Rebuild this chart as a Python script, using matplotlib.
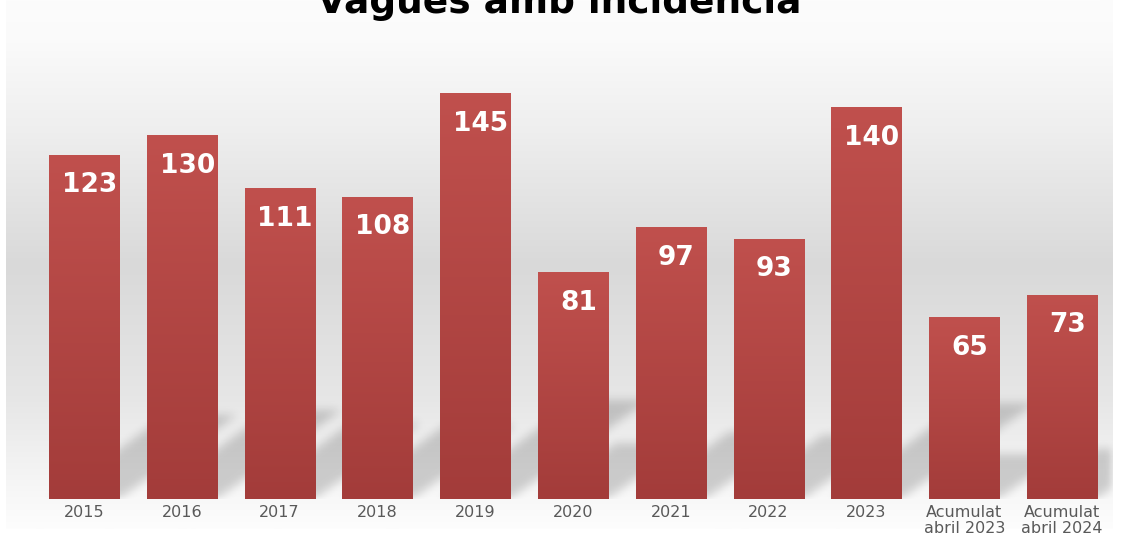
import numpy as np
import matplotlib.pyplot as plt
from matplotlib.colors import LinearSegmentedColormap

# chart data
labels = ['2015', '2016', '2017', '2018', '2019', '2020', '2021', '2022', '2023',
          'Acumulat\nabril 2023', 'Acumulat\nabril 2024']
values = [123, 130, 111, 108, 145, 81, 97, 93, 140, 65, 73]
title = 'Vagues amb incidència'

W, H = 1129, 537
fig = plt.figure(figsize=(W / 100, H / 100), dpi=100)

# grey gradient panel behind the plot
bg = fig.add_axes([6 / W, 8 / H, (1113 - 6) / W, 1 - 8 / H], zorder=0)
bg.set_axis_off()
grad = LinearSegmentedColormap.from_list('bg', [(0.0, '#fcfcfc'), (0.08, '#fafafa'),
                                                (0.25, '#eeeeee'), (0.5, '#d9d9d9'),
                                                (0.75, '#e6e6e6'), (0.93, '#f7f7f7'),
                                                (1.0, '#fdfdfd')])
bg.imshow(np.linspace(0, 1, 256).reshape(-1, 1), aspect='auto', cmap=grad,
          extent=[0, 1, 0, 1], origin='upper')
bg.set_xlim(0, 1)
bg.set_ylim(0, 1)

# main axes: baseline at y=499 px, 2.8 px per unit
left_px, right_px = 6, 1113
base_px = H - 499
top_px = H - 20
ax = fig.add_axes([left_px / W, base_px / H, (right_px - left_px) / W, (top_px - base_px) / H],
                  zorder=1)
ax.patch.set_alpha(0)
step = 97.8
x = np.arange(len(values))
xlo = -(84 - left_px) / step
xhi = xlo + (right_px - left_px) / step
ymax = (top_px - base_px) / 2.8
ax.set_xlim(xlo, xhi)
ax.set_ylim(0, ymax)

# blurred perspective shadows
nx, ny = 1107, int(top_px - base_px)
gx = np.linspace(xlo, xhi, nx)
gy = np.linspace(0, ymax, ny)
GX, GY = np.meshgrid(gx, gy)
mask = np.zeros_like(GX)
bw = 0.716
for xi, v in zip(x, values):
    sh = v * 0.244
    dx = v * 0.0098
    t = GY / sh
    inside = (t >= 0) & (t <= 1)
    x0 = xi - bw / 2 + dx * t
    x1 = xi + bw / 2 + dx * t
    inside &= (GX >= x0) & (GX <= x1)
    mask = np.maximum(mask, inside.astype(float))


def box_blur(a, r, axis):
    k = np.ones(2 * r + 1) / (2 * r + 1)
    return np.apply_along_axis(lambda m: np.convolve(m, k, mode='same'), axis, a)


for _ in range(3):
    mask = box_blur(mask, 4, 0)
    mask = box_blur(mask, 4, 1)
shadow = np.zeros((ny, nx, 4))
shadow[..., 3] = mask * 0.17
ax.imshow(shadow, extent=[xlo, xhi, 0, ymax], origin='lower', aspect='auto', zorder=1)

# bars with vertical red gradient
bars = ax.bar(x, values, width=bw, color='#b34543', zorder=2)
red = LinearSegmentedColormap.from_list('red', ['#a33c3a', '#c0504d'])
for b in bars:
    im = ax.imshow(np.linspace(0, 1, 128).reshape(-1, 1), cmap=red, aspect='auto',
                   origin='lower', extent=[b.get_x(), b.get_x() + b.get_width(), 0, b.get_height()],
                   zorder=3)
    im.set_clip_path(b)
ax.set_xlim(xlo, xhi)
ax.set_ylim(0, ymax)

for xi, v in zip(x, values):
    ax.annotate(str(v), (xi, v), xytext=(4, -22), textcoords='offset points',
                ha='center', va='center', color='white', fontsize=19, fontweight='bold',
                zorder=4)

ax.set_xticks(x)
ax.set_xticklabels(labels, fontsize=11.5, color='#595959', linespacing=1.1)
ax.tick_params(axis='x', length=0, pad=4)
ax.set_yticks([])
for s in ax.spines.values():
    s.set_visible(False)

fig.text(559 / W, 1 - 13 / H, title, ha='center', va='baseline', fontsize=27,
         fontweight='bold', color='black', zorder=5)

fig.savefig('out.png', dpi=100, facecolor='white')
